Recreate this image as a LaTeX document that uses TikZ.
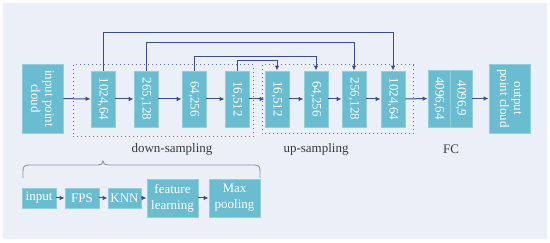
\documentclass[tikz,border=0pt]{standalone}
\usepackage{fontspec}
\setmainfont{Liberation Serif}
\usetikzlibrary{arrows.meta}
\definecolor{panel}{HTML}{EBF0F8}
\definecolor{boxfill}{HTML}{6ABCD0}
\definecolor{boxline}{HTML}{93CEDD}
\definecolor{navy}{HTML}{3C4A8E}
\definecolor{labelc}{HTML}{3A3A3A}
\definecolor{bracec}{HTML}{8A90AE}
\tikzset{
  vbox/.style={rotate=-90, draw=boxline, line width=0.8pt, fill=boxfill, text=white, inner sep=0pt, align=center, font=\fontsize{13}{14}\selectfont},
  layer/.style={vbox, minimum width=56pt, minimum height=24pt},
  fcbox/.style={vbox, minimum width=57pt, minimum height=22pt},
  cloud/.style={vbox, minimum width=69pt, minimum height=41pt},
  hbox/.style={draw=boxline, line width=0.8pt, fill=boxfill, text=white, inner sep=0pt, align=center, font=\fontsize{13}{16}\selectfont},
  conn/.style={draw=navy, line width=1pt, -{Latex[length=5pt,width=4.5pt]}},
  dotbox/.style={draw=navy!80, line width=1pt, dash pattern=on 1pt off 3pt},
  lbl/.style={text=labelc, font=\fontsize{13}{14}\selectfont, inner sep=0pt}
}
\begin{document}
\begin{tikzpicture}[x=1pt,y=-1pt]
\useasboundingbox (0,0) rectangle (550,243);
\fill[white] (0,0) rectangle (550,243);
\fill[panel] (3,3) rectangle (547,239);

% dotted groups
\draw[dotbox] (73,65) rectangle (253,137);
\draw[dotbox] (262,65) rectangle (413,134);

% main row
\node[cloud] (inp) at (42.5,98.5) {input point\\cloud};
\node[layer] (d1) at (103,99) {1024,64};
\node[layer] (d2) at (146,99) {265,128};
\node[layer] (d3) at (194,99) {64,256};
\node[layer] (d4) at (237,99) {16,512};
\node[layer] (u1) at (277,99) {16,512};
\node[layer] (u2) at (316,99) {64,256};
\node[layer] (u3) at (354,99) {256,128};
\node[layer] (u4) at (393,99) {1024,64};
\node[fcbox] (f1) at (439,98.5) {4096,64};
\node[fcbox] (f2) at (461,98.5) {4096,9};
\node[cloud] (out) at (509.5,98.5) {output\\point cloud};

\draw[conn] (inp) -- (d1);
\draw[conn] (d1) -- (d2);
\draw[conn] (d2) -- (d3);
\draw[conn] (d3) -- (d4);
\draw[conn] (d4) -- (u1);
\draw[conn] (u1) -- (u2);
\draw[conn] (u2) -- (u3);
\draw[conn] (u3) -- (u4);
\draw[conn] (u4) -- (f1);
\draw[conn] (f2) -- (out);

% skip connections
\draw[conn] (d1.west) -- (d1.west |- 0,33) -| (u4.west);
\draw[conn] (d2.west) -- (d2.west |- 0,43) -| (u3.west);
\draw[conn] (d3.west) -- (d3.west |- 0,57) -| (u2.west);
\draw[conn] (d4.west) -- (d4.west |- 0,61) -| (u1.west);

% labels
\node[lbl] (lds) at (172,149) {down-sampling};
\node[lbl] (lus) at (316,149) {up-sampling};
\node[lbl] (lfc) at (451,149) {FC};

% brace
\draw[bracec, line width=0.9pt] (23,178) -- (23,171) .. controls (23,166.5) and (24.5,165) .. (29,165) -- (98,165) .. controls (101,165) and (103,164) .. (103,161) .. controls (103,164) and (105,165) .. (108,165) -- (254,165) .. controls (258.5,165) and (260,166.5) .. (260,171) -- (260,178);

% bottom row
\node[hbox, minimum width=34pt, minimum height=20pt] (b1) at (39,198) {input};
\node[hbox, minimum width=34pt, minimum height=20pt] (b2) at (82,198) {FPS};
\node[hbox, minimum width=33pt, minimum height=20pt] (b3) at (124.5,198) {KNN};
\node[hbox, minimum width=51pt, minimum height=38pt] (b4) at (172.5,198) {feature\\learning};
\node[hbox, minimum width=51pt, minimum height=38pt] (b5) at (234.5,198) {Max\\pooling};
\draw[conn] (b1) -- (b2);
\draw[conn] (b2) -- (b3);
\draw[conn] (b3) -- (b4);
\draw[conn] (b4) -- (b5);
\end{tikzpicture}
\end{document}
